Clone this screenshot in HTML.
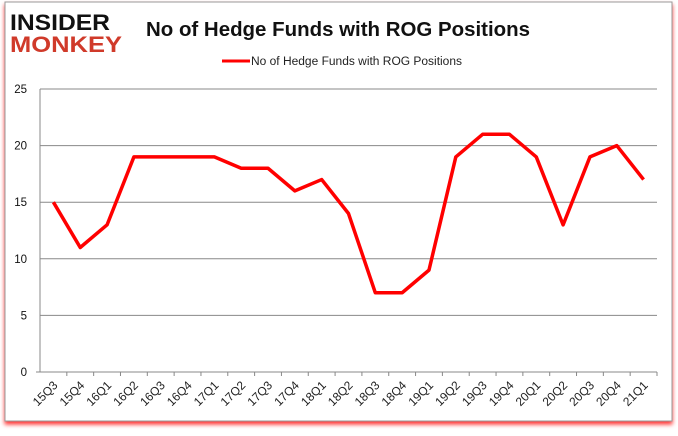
<!DOCTYPE html>
<html><head><style>
body{margin:0;background:#fff;font-family:"Liberation Sans",sans-serif;}
</style></head><body>
<svg width="678" height="431">
<defs><filter id="sh" x="-5%" y="-5%" width="110%" height="115%"><feDropShadow dx="0" dy="3" stdDeviation="2" flood-color="#f00" flood-opacity="0.8"/></filter></defs>
<rect x="5" y="2" width="667" height="419" fill="#fff" stroke="#999" filter="url(#sh)"/>
<g>
<text x="10" y="30" font-size="22" font-weight="bold" fill="#111" textLength="100" lengthAdjust="spacingAndGlyphs">INSIDER</text>
<text x="10" y="52" font-size="22" font-weight="bold" fill="#d03a2a" textLength="112" lengthAdjust="spacingAndGlyphs">MONKEY</text>
</g>
<text x="146" y="36" font-size="20" font-weight="bold" fill="#111" textLength="384" lengthAdjust="spacingAndGlyphs">No of Hedge Funds with ROG Positions</text>
<line x1="222" y1="61" x2="250" y2="61" stroke="#f00" stroke-width="3"/>
<text x="251" y="65" font-size="11.5" fill="#222" textLength="211" lengthAdjust="spacingAndGlyphs">No of Hedge Funds with ROG Positions</text>
<g id="g"></g>
</svg>
<script>
const categories=["15Q3","15Q4","16Q1","16Q2","16Q3","16Q4","17Q1","17Q2","17Q3","17Q4","18Q1","18Q2","18Q3","18Q4","19Q1","19Q2","19Q3","19Q4","20Q1","20Q2","20Q3","20Q4","21Q1"];
const values=[15,11,13,19,19,19,19,18,18,16,17,14,7,7,9,19,21,21,19,13,19,20,17];
const yTicks=[0,5,10,15,20,25];
const L=40,R=657,T=89,B=372,ymax=25;
const NS="http://www.w3.org/2000/svg";
const g=document.getElementById('g');
const bw=(R-L)/categories.length;
const xp=i=>L+bw*(i+0.5);
const yp=v=>B-(v/ymax)*(B-T);
function mk(t,a){const e=document.createElementNS(NS,t);for(const k in a)e.setAttribute(k,a[k]);g.appendChild(e);return e;}
yTicks.forEach(v=>{
 if(v>0){const l=mk('line',{x1:L,x2:R,y1:yp(v),y2:yp(v),stroke:'#888'});
 
 }
 const t=mk('text',{x:L-13,y:yp(v)+4,'font-size':11.5,'text-anchor':'end',fill:'#111'});
 t.textContent=v;
 
 
});
const ax=mk('line',{x1:L,x2:L,y1:T,y2:B,stroke:'#888'});


const xa=mk('line',{x1:L-4,x2:R,y1:B,y2:B,stroke:'#888'});


categories.forEach((c,i)=>{
 const x0=L+bw*(i+1);
 const tk=mk('line',{x1:x0,x2:x0,y1:B,y2:B+4,stroke:'#888'});
 
 
 const x=xp(i)+5,y=B+14;
 const t=mk('text',{x:x,y:y,'font-size':12,'text-anchor':'end',fill:'#222',transform:`rotate(-45 ${x} ${y})`});
 t.textContent=c;
 
 
});
const p=mk('polyline',{points:values.map((v,i)=>xp(i)+','+yp(v)).join(' '),fill:'none',stroke:'#f00','stroke-width':3.5,'stroke-linejoin':'round'});


</script>
</body></html>
